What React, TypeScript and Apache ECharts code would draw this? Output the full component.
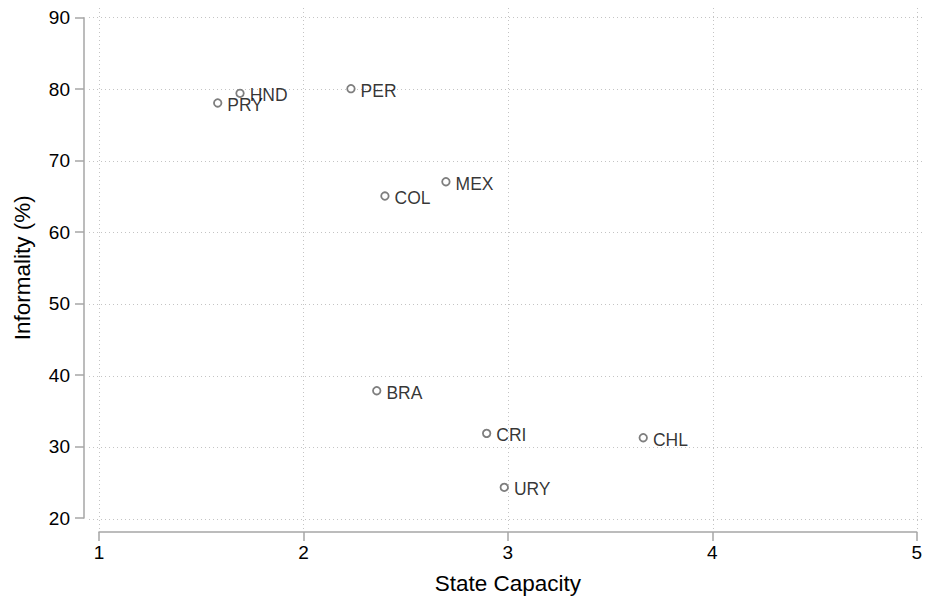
import React, { useEffect, useRef } from "react";
import * as echarts from "echarts";

// Country codes with state capacity (x) and informality share (y)
const countries = ["HND", "PRY", "PER", "MEX", "COL", "BRA", "CRI", "CHL", "URY"];
const stateCapacity = [1.689, 1.58, 2.231, 2.695, 2.397, 2.357, 2.894, 3.659, 2.98];
const informality = [79.44, 78.09, 80.09, 67.1, 65.1, 37.91, 31.96, 31.35, 24.42];

const xTicks = [1, 2, 3, 4, 5];
const yTicks = [20, 30, 40, 50, 60, 70, 80, 90];

const FONT = "'Liberation Sans', Arial, Helvetica, sans-serif";
const AXIS_GRAY = "#a6a6a6";
const GRID_GRAY = "#c4c4c4";

// Data-range box (where axis lines run) and the padded plot region around it
const W = 925;
const H = 600;
const box = { left: 99, right: 917.7, top: 17.7, bottom: 519 };
const PAD = 10;

const xMin = xTicks[0];
const xMax = xTicks[xTicks.length - 1];
const yMin = yTicks[0];
const yMax = yTicks[yTicks.length - 1];
const pxPerX = (box.right - box.left) / (xMax - xMin);
const pxPerY = (box.bottom - box.top) / (yMax - yMin);

const outer = {
  left: box.left - PAD,
  right: W, // clipped at the canvas edge
  top: box.top - PAD,
  bottom: box.bottom + PAD,
};

export default function App() {
  const ref = useRef<HTMLDivElement>(null);

  useEffect(() => {
    if (!ref.current) return;
    document.body.style.margin = "0";
    document.body.style.overflow = "hidden";
    const chart = echarts.init(ref.current, null, { renderer: "svg" });

    const points = countries.map((c, i) => ({
      name: c,
      value: [stateCapacity[i], informality[i]],
    }));

    const gridLines = [
      ...xTicks.map((v) => ({ xAxis: v })),
      ...yTicks.map((v) => ({ yAxis: v })),
    ];

    chart.setOption({
      animation: false,
      backgroundColor: "#ffffff",
      textStyle: { fontFamily: FONT },
      grid: [
        {
          left: box.left,
          right: W - box.right,
          top: box.top,
          bottom: H - box.bottom,
        },
        {
          left: outer.left,
          right: W - outer.right,
          top: outer.top,
          bottom: H - outer.bottom,
        },
      ],
      xAxis: [
        {
          gridIndex: 0,
          type: "value",
          min: xMin,
          max: xMax,
          interval: 1,
          offset: 14,
          axisLine: { onZero: false, lineStyle: { color: AXIS_GRAY, width: 1.5 } },
          axisTick: { length: 9, lineStyle: { color: AXIS_GRAY, width: 1.5 } },
          axisLabel: { fontSize: 19, color: "#000", margin: 11, fontFamily: FONT },
          splitLine: { show: false },
          name: "State Capacity",
          nameLocation: "middle",
          nameGap: 40,
          nameTextStyle: { fontSize: 22.5, color: "#000", fontFamily: FONT },
        },
        {
          gridIndex: 1,
          type: "value",
          min: xMin - (box.left - outer.left) / pxPerX,
          max: xMax + (outer.right - box.right) / pxPerX,
          show: false,
          splitLine: { show: false },
        },
      ],
      yAxis: [
        {
          gridIndex: 0,
          type: "value",
          min: yMin,
          max: yMax,
          interval: 10,
          offset: 15,
          axisLine: { onZero: false, lineStyle: { color: AXIS_GRAY, width: 1.5 } },
          axisTick: { length: 9, lineStyle: { color: AXIS_GRAY, width: 1.5 } },
          axisLabel: { fontSize: 19, color: "#000", margin: 14, fontFamily: FONT },
          splitLine: { show: false },
          name: "Informality (%)",
          nameLocation: "middle",
          nameGap: 50,
          nameTextStyle: { fontSize: 22.5, color: "#000", fontFamily: FONT },
        },
        {
          gridIndex: 1,
          type: "value",
          min: yMin - (outer.bottom - box.bottom) / pxPerY,
          max: yMax + (box.top - outer.top) / pxPerY,
          show: false,
          splitLine: { show: false },
        },
      ],
      series: [
        {
          type: "scatter",
          xAxisIndex: 1,
          yAxisIndex: 1,
          data: points,
          symbol: "circle",
          symbolSize: 7.5,
          itemStyle: {
            color: "#ffffff",
            borderColor: "#5e5e5e",
            borderWidth: 1.8,
          },
          label: {
            show: true,
            position: "right",
            distance: 5,
            offset: [0, 2],
            formatter: "{b}",
            fontSize: 17.5,
            color: "#000",
            fontFamily: FONT,
          },
          emphasis: { disabled: true },
          markLine: {
            silent: true,
            symbol: "none",
            label: { show: false },
            lineStyle: { color: GRID_GRAY, type: [1, 3], width: 1 },
            emphasis: { disabled: true },
            data: gridLines,
            z: 1,
          },
          z: 5,
        },
      ],
    });

    return () => chart.dispose();
  }, []);

  return <div ref={ref} style={{ width: W, height: H }} />;
}
